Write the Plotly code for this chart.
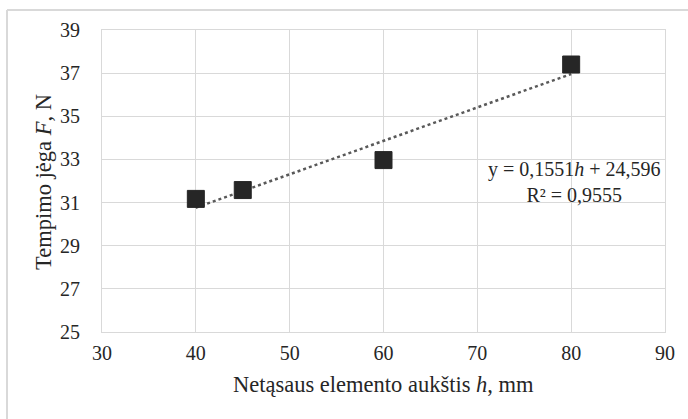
import numpy as np
import plotly.graph_objects as go

# Data
h_values = [40, 45, 60, 80]
F_values = [31.17, 31.58, 32.97, 37.40]
x_ticks = [30, 40, 50, 60, 70, 80, 90]
y_ticks = [25, 27, 29, 31, 33, 35, 37, 39]
equation_text = "y = 0,1551<i>h</i> + 24,596<br>R² = 0,9555"
x_title = "Netąsaus elemento aukštis <i>h</i>, mm"
y_title = "Tempimo jėga <i>F</i>, N"

W, H = 688, 419
L, R, T, B = 102, 665, 30, 332
pw, ph = R - L, B - T


def px(x):
    return (x - L) / pw


def py(y):
    return (B - y) / ph


slope, intercept = np.polyfit(h_values, F_values, 1)
trend_x = [min(h_values), max(h_values)]
trend_y = [slope * v + intercept for v in trend_x]

FONT = "Liberation Serif"
GRID = "#d9d9d9"
TXT = "#262626"

fig = go.Figure()
fig.add_trace(go.Scatter(
    x=trend_x, y=trend_y, mode="lines",
    line=dict(color="#595959", width=2.5, dash="dot"),
    showlegend=False, hoverinfo="skip"))
fig.add_trace(go.Scatter(
    x=h_values, y=F_values, mode="markers",
    marker=dict(symbol="square", size=17, color="#262626",
                line=dict(color="#262626", width=1)),
    showlegend=False))

fig.update_layout(
    width=W, height=H,
    margin=dict(l=L, r=W - R, t=T, b=H - B),
    paper_bgcolor="white", plot_bgcolor="white",
    font=dict(family=FONT, size=20, color=TXT),
    xaxis=dict(range=[30, 90], tickvals=x_ticks, showgrid=True, gridcolor=GRID,
               gridwidth=1, showline=True, linecolor=GRID, linewidth=1, mirror=True,
               zeroline=False, ticks="outside", ticklen=3, tickcolor="rgba(0,0,0,0)",
               tickfont=dict(family=FONT, size=20, color=TXT)),
    yaxis=dict(range=[25, 39], tickvals=y_ticks, showgrid=True, gridcolor=GRID,
               gridwidth=1, showline=True, linecolor=GRID, linewidth=1, mirror=True,
               zeroline=False, ticks="outside", ticklen=17, tickcolor="rgba(0,0,0,0)",
               tickfont=dict(family=FONT, size=20, color=TXT)),
    shapes=[
        dict(type="line", xref="paper", yref="paper", x0=px(7), x1=px(700),
             y0=py(10), y1=py(10), line=dict(color=GRID, width=2)),
        dict(type="line", xref="paper", yref="paper", x0=px(7), x1=px(7),
             y0=py(10), y1=py(430), line=dict(color=GRID, width=2)),
    ],
    annotations=[
        dict(text=x_title, xref="paper", yref="paper", x=px(383), y=py(385),
             showarrow=False, xanchor="center", yanchor="middle",
             font=dict(family=FONT, size=22.5, color=TXT)),
        dict(text=y_title, xref="paper", yref="paper", x=px(43), y=py(182),
             showarrow=False, xanchor="center", yanchor="middle", textangle=-90,
             font=dict(family=FONT, size=22.5, color=TXT)),
        dict(text=equation_text, xref="paper", yref="paper", x=px(574), y=py(182),
             showarrow=False, xanchor="center", yanchor="middle", align="center",
             font=dict(family=FONT, size=20, color=TXT)),
    ],
)

fig.write_html("out.html")
